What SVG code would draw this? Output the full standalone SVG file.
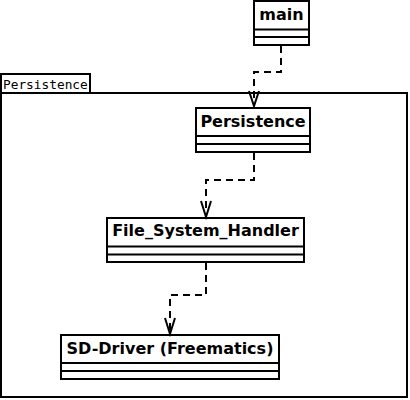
<svg xmlns="http://www.w3.org/2000/svg" width="410" height="400" viewBox="0 0 410 400">
<style>
.box{fill:#fff;stroke:#000;stroke-width:2}
.ln{stroke:#000;stroke-width:2;fill:none}
.t{font-family:"DejaVu Sans",sans-serif;font-weight:bold;font-size:16px;fill:#000;text-anchor:middle}
.m{font-family:"DejaVu Sans Mono",monospace;font-size:12.8px;fill:#000}
.dash{stroke:#000;stroke-width:2;fill:none;stroke-dasharray:7,5}
.arr{stroke:#000;stroke-width:2;fill:none}
</style>
<rect width="410" height="400" fill="#fff"/>
<g id="pkg">
<rect class="box" x="1" y="74" width="89" height="19"/>
<rect class="box" x="1" y="93" width="406" height="304"/>
<text class="m" x="3" y="89">Persistence</text>
</g>
<g id="main">
<rect class="box" x="254" y="1" width="55" height="44"/>
<line class="ln" x1="254" y1="29.5" x2="309" y2="29.5"/>
<line class="ln" x1="254" y1="37" x2="309" y2="37"/>
<text class="t" x="281.5" y="20">main</text>
</g>
<g id="persistence">
<rect class="box" x="196" y="108" width="114" height="44"/>
<line class="ln" x1="196" y1="136" x2="310" y2="136"/>
<line class="ln" x1="196" y1="144" x2="310" y2="144"/>
<text class="t" x="253" y="127">Persistence</text>
</g>
<g id="fsh">
<rect class="box" x="107" y="218" width="197" height="44"/>
<line class="ln" x1="107" y1="246.5" x2="304" y2="246.5"/>
<line class="ln" x1="107" y1="254.5" x2="304" y2="254.5"/>
<text class="t" x="205.5" y="236">File_System_Handler</text>
</g>
<g id="sd">
<rect class="box" x="61" y="335" width="218" height="44"/>
<line class="ln" x1="61" y1="363" x2="279" y2="363"/>
<line class="ln" x1="61" y1="371" x2="279" y2="371"/>
<text class="t" x="170" y="354">SD-Driver (Freematics)</text>
</g>
<g id="connectors">
<path class="dash" d="M281,46 V72 H254 V105"/>
<path class="arr" d="M249,91 L254,106 L259,91"/>
<path class="dash" d="M254,153 V180 H206 V215"/>
<path class="arr" d="M201,201 L206,217 L211,201"/>
<path class="dash" d="M206,263 V295 H170 V332"/>
<path class="arr" d="M165,318 L170,334 L175,318"/>
</g>
</svg>
